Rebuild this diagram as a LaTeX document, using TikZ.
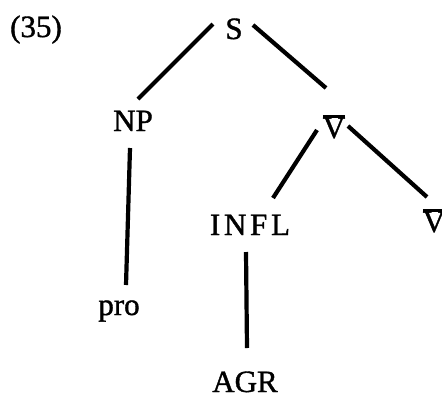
\documentclass[tikz,border=0pt]{standalone}
\usepackage{fontspec}
\setmainfont[FakeBold=1.2]{Liberation Serif}
\usetikzlibrary{calc}
\newcommand\VbarSym{\leavevmode\rlap{\raisebox{0.64em}{\rule{0.72em}{0.1em}}}V}
\begin{document}
\begin{tikzpicture}[x=1pt,y=-1pt,
  lab/.style={anchor=base,inner sep=0pt,font=\fontsize{31}{36}\selectfont},
  edge/.style={line width=4.2pt,line cap=butt}]
\useasboundingbox[fill=white] (0,0) rectangle (442,397);
\node[lab] (num) at (36,37) {(35)};
\node[lab] (S) at (234,39) {S};
\node[lab] (NP) at (133,131) {NP};
\node[lab] (Vm) at (334,138) {\VbarSym};
\node[lab] (pro) at (119,315) {pro};
\node[lab] (INFL) at (250,235) {\addfontfeatures{LetterSpace=12}INFL};
\node[lab] (Vr) at (434,232) {\VbarSym};
\node[lab] (AGR) at (245,392) {AGR};
\draw[edge] ($(S.base)+(-21,-15)$) -- ($(NP.base)+(5,-32)$);
\draw[edge] ($(S.base)+(19,-14)$) -- ($(Vm.base)+(-8,-50)$);
\draw[edge] ($(NP.base)+(-3,17)$) -- ($(pro.base)+(7,-30)$);
\draw[edge] ($(Vm.base)+(-17,-8)$) -- ($(INFL.base)+(23,-37)$);
\draw[edge] ($(Vm.base)+(14,-12)$) -- ($(Vr.base)+(-7,-35)$);
\draw[edge] ($(INFL.base)+(-4,17)$) -- ($(AGR.base)+(2,-44)$);
\end{tikzpicture}
\end{document}
